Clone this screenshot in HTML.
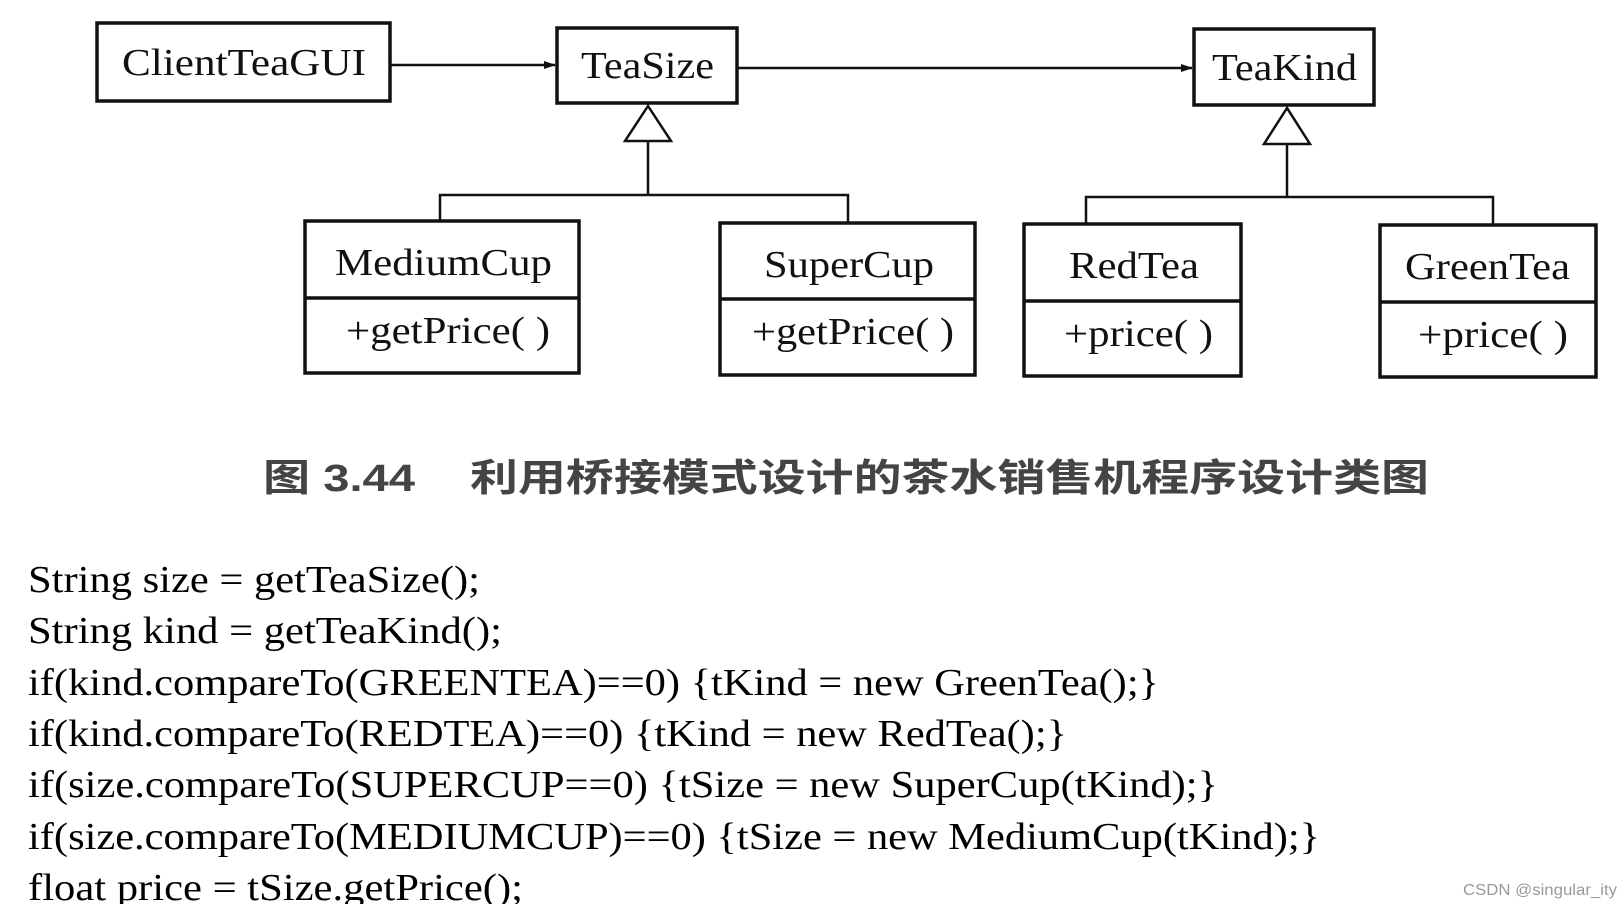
<!DOCTYPE html>
<html><head><meta charset="utf-8"><style>html,body{margin:0;padding:0;background:#fff}svg{display:block}</style></head>
<body>
<svg width="1624" height="904" viewBox="0 0 1624 904" xmlns="http://www.w3.org/2000/svg">
<defs><marker id="ar" markerWidth="12" markerHeight="10" refX="11" refY="5" orient="auto" markerUnits="userSpaceOnUse"><path d="M0,1 L12,5 L0,9 z" fill="#111"/></marker></defs>
<g fill="none" stroke="#111" stroke-width="3.5">
<rect x="97" y="23" width="293" height="78"/>
<rect x="557" y="28" width="180" height="75"/>
<rect x="1194" y="29" width="180" height="76"/>
<rect x="305" y="221" width="274" height="152"/><line x1="305" y1="298" x2="579" y2="298"/>
<rect x="720" y="223" width="255" height="152"/><line x1="720" y1="299" x2="975" y2="299"/>
<rect x="1024" y="224" width="217" height="152"/><line x1="1024" y1="301" x2="1241" y2="301"/>
<rect x="1380" y="225" width="216" height="152"/><line x1="1380" y1="302" x2="1596" y2="302"/>
</g>
<g fill="none" stroke="#111" stroke-width="2.5">
<line x1="390" y1="65" x2="555" y2="65" marker-end="url(#ar)"/>
<line x1="737" y1="68" x2="1192" y2="68" marker-end="url(#ar)"/>
<polygon points="648,106 625,141 671,141"/>
<line x1="648" y1="141" x2="648" y2="195"/>
<polyline points="440,221 440,195 848,195 848,223"/>
<polygon points="1287,108 1264,144 1310,144"/>
<line x1="1287" y1="144" x2="1287" y2="197"/>
<polyline points="1086,224 1086,197 1493,197 1493,225"/>
</g>
<g font-family="Liberation Serif, serif" font-size="38" fill="#111">
<text x="122" y="75" textLength="244" lengthAdjust="spacingAndGlyphs">ClientTeaGUI</text>
<text x="581" y="78" textLength="133" lengthAdjust="spacingAndGlyphs">TeaSize</text>
<text x="1212" y="80" textLength="145" lengthAdjust="spacingAndGlyphs">TeaKind</text>
<text x="335" y="275" textLength="217" lengthAdjust="spacingAndGlyphs">MediumCup</text>
<text x="346" y="343" textLength="204" lengthAdjust="spacingAndGlyphs">+getPrice( )</text>
<text x="764" y="277" textLength="170" lengthAdjust="spacingAndGlyphs">SuperCup</text>
<text x="752" y="344" textLength="202" lengthAdjust="spacingAndGlyphs">+getPrice( )</text>
<text x="1069" y="278" textLength="130" lengthAdjust="spacingAndGlyphs">RedTea</text>
<text x="1064" y="346" textLength="149" lengthAdjust="spacingAndGlyphs">+price( )</text>
<text x="1405" y="279" textLength="165" lengthAdjust="spacingAndGlyphs">GreenTea</text>
<text x="1418" y="347" textLength="150" lengthAdjust="spacingAndGlyphs">+price( )</text>
</g>
<g font-family="Liberation Sans, Noto Sans CJK SC, sans-serif" font-size="38" font-weight="bold" fill="#444">
<text x="263" y="491" textLength="152" lengthAdjust="spacingAndGlyphs">图 3.44</text>
<text x="470" y="491" textLength="959" lengthAdjust="spacingAndGlyphs">利用桥接模式设计的茶水销售机程序设计类图</text>
</g>
<g font-family="Liberation Serif, serif" font-size="38" fill="#000">
<text x="28" y="592" textLength="452" lengthAdjust="spacingAndGlyphs">String size = getTeaSize();</text>
<text x="28" y="643" textLength="474" lengthAdjust="spacingAndGlyphs">String kind = getTeaKind();</text>
<text x="28" y="695" textLength="1131" lengthAdjust="spacingAndGlyphs">if(kind.compareTo(GREENTEA)==0)  {tKind = new GreenTea();}</text>
<text x="28" y="746" textLength="1039" lengthAdjust="spacingAndGlyphs">if(kind.compareTo(REDTEA)==0)  {tKind = new RedTea();}</text>
<text x="28" y="797" textLength="1190" lengthAdjust="spacingAndGlyphs">if(size.compareTo(SUPERCUP==0)  {tSize = new SuperCup(tKind);}</text>
<text x="28" y="849" textLength="1292" lengthAdjust="spacingAndGlyphs">if(size.compareTo(MEDIUMCUP)==0)  {tSize = new MediumCup(tKind);}</text>
<text x="28" y="900" textLength="495" lengthAdjust="spacingAndGlyphs">float price = tSize.getPrice();</text>
</g>
<text x="1463" y="895" font-family="Liberation Sans, sans-serif" font-size="16" fill="#999" textLength="154" lengthAdjust="spacingAndGlyphs">CSDN @singular_ity</text>
</svg>
</body></html>
